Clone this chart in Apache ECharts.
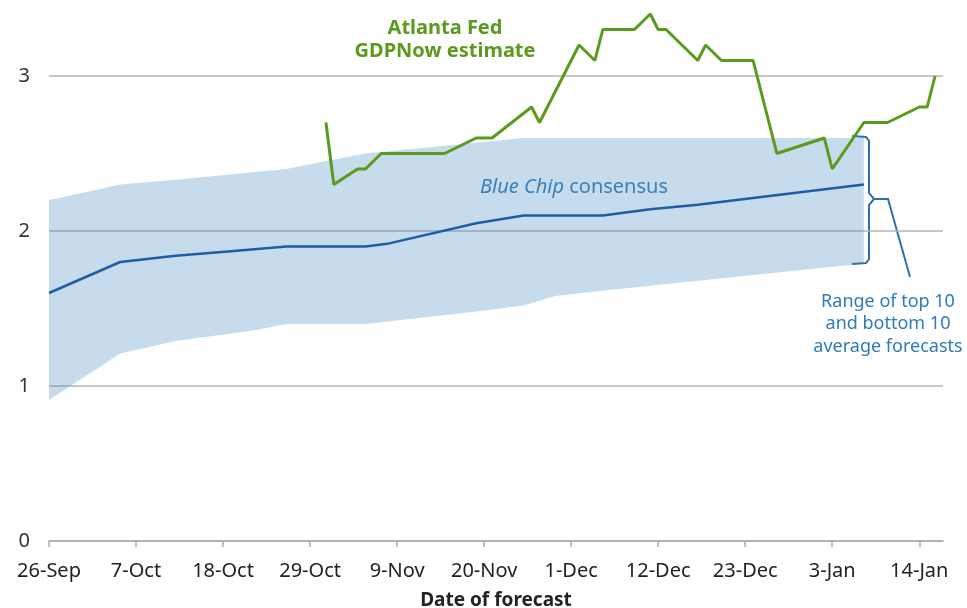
<!DOCTYPE html>
<html>
<head>
<meta charset="utf-8">
<title>GDPNow vs Blue Chip consensus</title>
<script src="https://cdn.jsdelivr.net/npm/echarts@6/dist/echarts.min.js"></script>
<style>
  html, body { margin: 0; padding: 0; background: #fff; }
  #chart { width: 967px; height: 608px; }
</style>
</head>
<body>
<div id="chart"></div>
<script>
// x values are days since 26-Sep
const tickDays = [0, 11, 22, 33, 44, 55, 66, 77, 88, 99, 110]
const tickLabels = ['26-Sep', '7-Oct', '18-Oct', '29-Oct', '9-Nov', '20-Nov', '1-Dec', '12-Dec', '23-Dec', '3-Jan', '14-Jan']

const consensusDays = [0, 9, 16, 23, 30, 40, 43, 54, 60, 70, 76, 82, 103]
const consensusValues = [1.6, 1.8, 1.84, 1.87, 1.9, 1.9, 1.92, 2.05, 2.1, 2.1, 2.14, 2.17, 2.3]

const upperDays = [0, 1, 9, 16, 30, 34, 40, 50, 60, 103]
const upperValues = [2.2, 2.21, 2.3, 2.33, 2.4, 2.44, 2.5, 2.55, 2.6, 2.6]

const lowerDays = [0, 9, 16, 26, 30, 40, 54, 60, 64, 69, 103]
const lowerValues = [0.91, 1.21, 1.29, 1.36, 1.4, 1.4, 1.48, 1.52, 1.58, 1.61, 1.79]

const gdpNowDays = [35, 36, 39, 40, 42, 50, 54, 56, 61, 62, 67, 69, 70, 74, 76, 77, 78, 82, 83, 85, 89, 92, 98, 99, 103, 106, 110, 111, 112]
const gdpNowValues = [2.7, 2.3, 2.4, 2.4, 2.5, 2.5, 2.6, 2.6, 2.8, 2.7, 3.2, 3.1, 3.3, 3.3, 3.4, 3.3, 3.3, 3.1, 3.2, 3.1, 3.1, 2.5, 2.6, 2.4, 2.7, 2.7, 2.8, 2.8, 3.0]

const zip = (xs, ys) => xs.map((x, i) => [x, ys[i]])

const font = '"Noto Sans", "Open Sans", sans-serif'
const green = '#5a9a1c'
const lineBlue = '#1e5fa3'
const noteBlue = '#2f7bb9'

const chart = echarts.init(document.getElementById('chart'))

chart.setOption({
  animation: false,
  textStyle: { fontFamily: font },
  grid: { left: 49, right: 24, top: 76, bottom: 67, outerBoundsMode: 'none' },
  xAxis: {
    type: 'value',
    min: 0,
    max: 113,
    splitLine: { show: false },
    axisLine: { lineStyle: { color: '#aaaaaa', width: 1.5 } },
    axisTick: {
      customValues: tickDays,
      length: 6,
      lineStyle: { color: '#aaaaaa', width: 1.5 }
    },
    axisLabel: {
      customValues: tickDays,
      formatter: v => tickLabels[tickDays.indexOf(v)] || '',
      color: '#222',
      fontSize: 20,
      margin: 20
    },
    name: 'Date of forecast',
    nameLocation: 'middle',
    nameGap: 50,
    nameTextStyle: { color: '#222', fontSize: 19, fontWeight: 'bold', fontFamily: font }
  },
  yAxis: {
    type: 'value',
    min: 0,
    max: 3,
    interval: 1,
    axisLine: { show: false },
    axisTick: { show: false },
    axisLabel: { color: '#333', fontSize: 20, margin: 19 },
    splitLine: { lineStyle: { color: '#b4b4b4', width: 1.5 } }
  },
  series: [
    {
      name: 'Range',
      type: 'custom',
      z: 1,
      data: [0],
      renderItem: (params, api) => {
        const top = zip(upperDays, upperValues).map(p => api.coord(p))
        const bottom = zip(lowerDays, lowerValues).map(p => api.coord(p)).reverse()
        return {
          type: 'polygon',
          shape: { points: top.concat(bottom) },
          style: { fill: 'rgba(74,140,192,0.315)' }
        }
      }
    },
    {
      name: 'Blue Chip consensus',
      type: 'line',
      z: 3,
      symbol: 'none',
      data: zip(consensusDays, consensusValues),
      lineStyle: { color: lineBlue, width: 2.5 }
    },
    {
      name: 'Atlanta Fed GDPNow estimate',
      type: 'line',
      z: 4,
      clip: false,
      symbol: 'none',
      data: zip(gdpNowDays, gdpNowValues),
      lineStyle: { color: green, width: 3 }
    }
  ],
  graphic: [
    {
      type: 'text',
      x: 445,
      y: 40,
      style: {
        text: 'Atlanta Fed\nGDPNow estimate',
        fill: green,
        font: 'bold 20px ' + font,
        align: 'center',
        verticalAlign: 'middle',
        lineHeight: 23
      }
    },
    {
      type: 'text',
      x: 480,
      y: 187,
      style: {
        text: '{i|Blue Chip} consensus',
        fill: noteBlue,
        font: '20px ' + font,
        verticalAlign: 'middle',
        rich: {
          i: { fontStyle: 'italic', fontSize: 20, fill: noteBlue, fontFamily: font }
        }
      }
    },
    {
      type: 'text',
      x: 888,
      y: 324,
      style: {
        text: 'Range of top 10\nand bottom 10\naverage forecasts',
        fill: noteBlue,
        font: '18px ' + font,
        align: 'center',
        verticalAlign: 'middle',
        lineHeight: 22.5
      }
    },
    {
      type: 'polyline',
      shape: { points: [[852, 136], [866, 137], [869, 141], [869, 193], [874, 199], [869, 205], [869, 259], [866, 263], [852, 264]] },
      style: { stroke: '#2a6fae', lineWidth: 2, fill: null }
    },
    {
      type: 'polyline',
      shape: { points: [[874, 199], [888, 199], [910, 277]] },
      style: { stroke: '#2a6fae', lineWidth: 2, fill: null }
    }
  ]
})
</script>
</body>
</html>
